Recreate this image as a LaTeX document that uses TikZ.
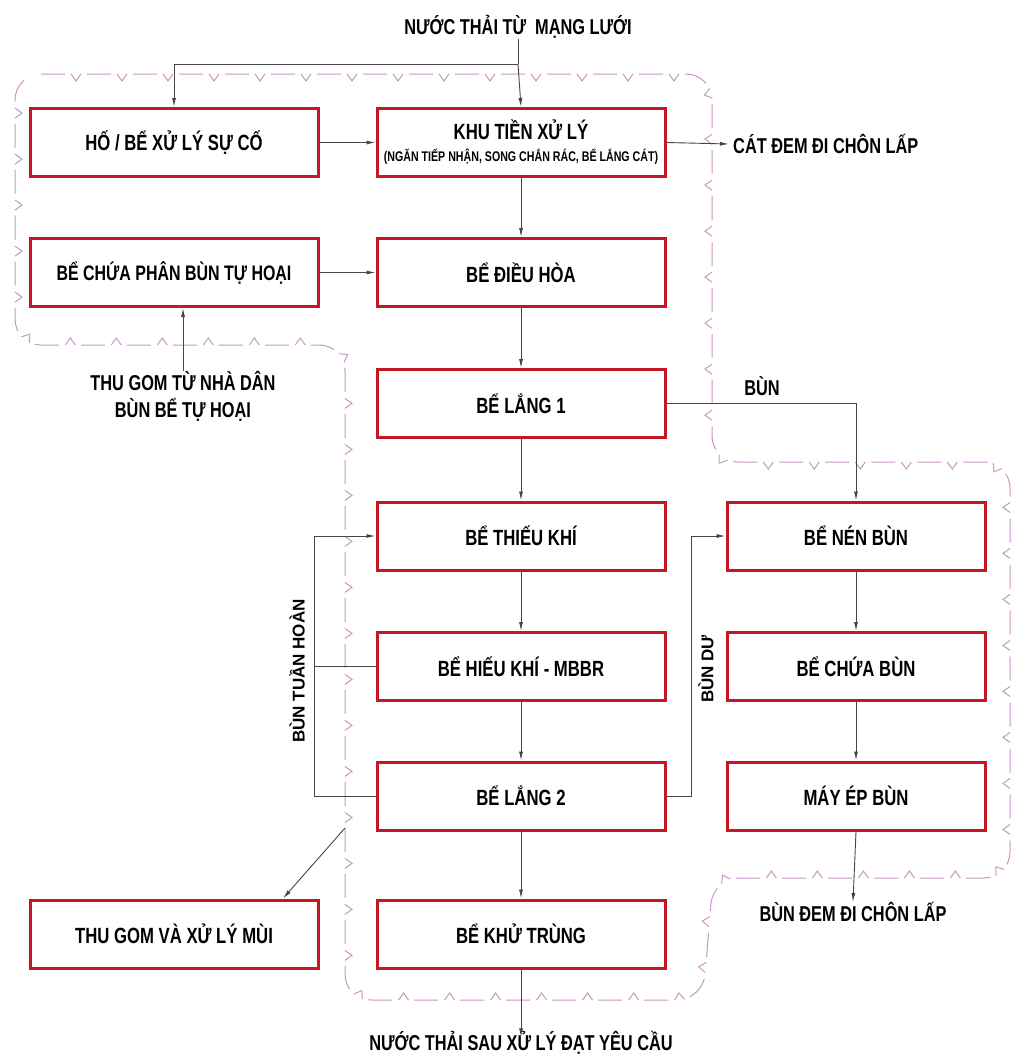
\documentclass[tikz,border=0pt]{standalone}
\usepackage{fontspec}
\setmainfont{Liberation Sans}[FakeStretch=0.76]
\newfontfamily\widefont{Liberation Sans}
\usetikzlibrary{arrows.meta,decorations.markings}
\definecolor{boxred}{RGB}{196,24,36}
\definecolor{cloudc}{RGB}{200,150,200}
\definecolor{linec}{RGB}{70,70,70}
\begin{document}
\begin{tikzpicture}[x=1pt,y=-1pt,
  tank/.style={draw=boxred,line width=3pt,fill=white,minimum width=288pt,minimum height=68pt,inner sep=0pt,align=center,font=\fontsize{22}{24}\selectfont\bfseries},
  tanknar/.style={tank,minimum width=258pt},
  lbl/.style={inner sep=0pt,align=center,font=\fontsize{21.5}{27}\selectfont\bfseries},
  vlbl/.style={inner sep=0pt,rotate=90,font=\fontsize{17}{18}\selectfont\widefont\bfseries},
  arr/.style={draw=linec,line width=0.9pt,-{Latex[length=9pt,width=4pt]}},
  ln/.style={draw=linec,line width=0.9pt},
  cloud/.style={draw=cloudc,line width=1pt,rounded corners=26pt,dash pattern=on 24pt off 22pt,
    postaction={decorate},
    decoration={markings,mark=between positions 35pt and -10pt step 46pt with {\draw[cloudc,line width=1pt,solid,sharp corners] (-5pt,0pt) -- (0pt,-7pt) -- (5pt,0pt);}}}]
\useasboundingbox (0,0) rectangle (1019,1061);
\fill[white] (0,0) rectangle (1019,1061);
% cloud outline
\draw[cloud] (15,74) -- (712,74) -- (712,462) -- (1010,462) -- (1010,878) -- (713,878) -- (703,1000) -- (345,1000) -- (345,345) -- (15,345) -- cycle;
% tanks
\node[tank] (ho) at (174,142.5) {HỐ / BỂ XỬ LÝ SỰ CỐ};
\node[tank] (khu) at (521,142.5) {KHU TIỀN XỬ LÝ\\[-2pt]{\fontsize{14}{15}\selectfont(NGĂN TIẾP NHẬN, SONG CHẮN RÁC, BỂ LẮNG CÁT)}};
\node[tank,font=\fontsize{21}{24}\selectfont\bfseries] (bechua) at (174,272.5) {BỂ CHỨA PHÂN BÙN TỰ HOẠI};
\node[tank] (dieuhoa) at (521,272.5) {BỂ ĐIỀU HÒA};
\node[tank] (lang1) at (521,403.5) {BỂ LẮNG 1};
\node[tank] (thieu) at (521,536) {BỂ THIẾU KHÍ};
\node[tanknar] (nen) at (856,536) {BỂ NÉN BÙN};
\node[tank] (hieu) at (521,666.5) {BỂ HIẾU KHÍ - MBBR};
\node[tanknar] (chuabun) at (856,666.5) {BỂ CHỨA BÙN};
\node[tank] (lang2) at (521,796) {BỂ LẮNG 2};
\node[tanknar] (mayep) at (856,796) {MÁY ÉP BÙN};
\node[tank] (mui) at (174,934) {THU GOM VÀ XỬ LÝ MÙI};
\node[tank] (khutrung) at (521,934) {BỂ KHỬ TRÙNG};
% free labels
\node[lbl] (top) at (518,27) {NƯỚC THẢI TỪ \ MẠNG LƯỚI};
\node[lbl,anchor=west] (cat) at (733,144) {CÁT ĐEM ĐI CHÔN LẤP};
\node[lbl] (thugom) at (183,396) {THU GOM TỪ NHÀ DÂN\\BÙN BỂ TỰ HOẠI};
\node[lbl] (bunlbl) at (762,386) {BÙN};
\node[lbl] (bunchon) at (853,912) {BÙN ĐEM ĐI CHÔN LẤP};
\node[lbl] (out) at (521,1043) {NƯỚC THẢI SAU XỬ LÝ ĐẠT YÊU CẦU};
\node[vlbl] (tuanhoan) at (297,671) {BÙN TUẦN HOÀN};
\node[vlbl] (bundu) at (706,669) {BÙN DƯ};
% coordinates
\coordinate (j1) at (518,64);
\coordinate (rl) at (314,0);
\coordinate (rr) at (691,0);
\coordinate (m0) at (345,828);
% connectors
\draw[ln] (top.south) -- (j1);
\draw[arr] (j1) -- (khu.north);
\draw[arr] (j1) -| (ho.north);
\draw[arr] (ho.east) -- (khu.west);
\draw[arr] (khu.east) -- ([xshift=-4pt]cat.west);
\draw[arr] (bechua.east) -- (dieuhoa.west);
\draw[arr] (thugom.north) -- (bechua.south -| thugom.north);
\draw[arr] (khu.south) -- (dieuhoa.north);
\draw[arr] (dieuhoa.south) -- (lang1.north);
\draw[arr] (lang1.south) -- (thieu.north);
\draw[arr] (thieu.south) -- (hieu.north);
\draw[arr] (hieu.south) -- (lang2.north);
\draw[arr] (lang2.south) -- (khutrung.north);
\draw[arr] (khutrung.south) -- ([yshift=-6pt]out.north);
\draw[arr] (lang1.east) -| (nen.north);
\draw[arr] (nen.south) -- (chuabun.north);
\draw[arr] (chuabun.south) -- (mayep.north);
\draw[arr] (mayep.south) -- (bunchon.north);
\draw[arr] (lang2.west) -- (lang2.west -| rl) |- (thieu.west);
\draw[ln] (hieu.west) -- (hieu.west -| rl);
\draw[arr] (lang2.east) -- (lang2.east -| rr) |- (nen.west);
\draw[arr] (m0) -- ([xshift=109pt]mui.north);
\end{tikzpicture}
\end{document}
